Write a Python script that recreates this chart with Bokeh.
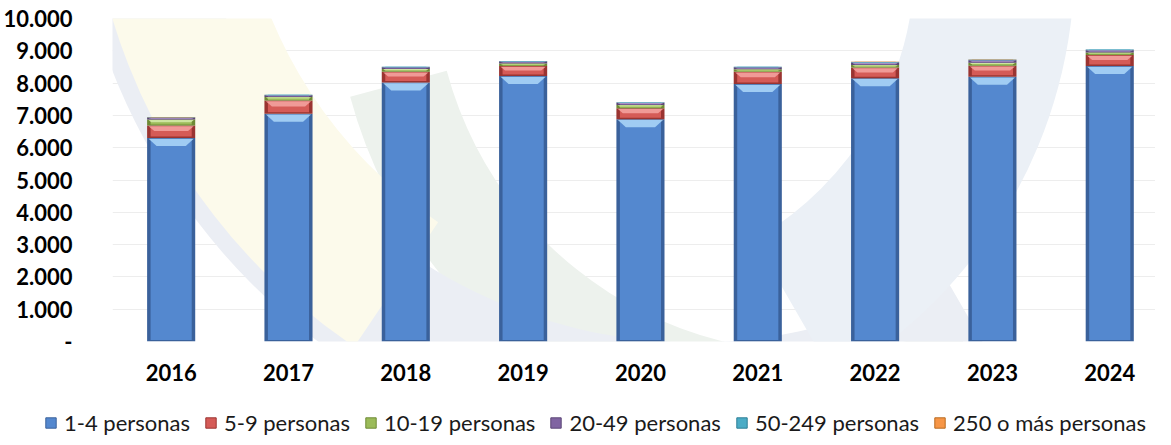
import numpy as np
from bokeh.plotting import figure
from bokeh.models import ColumnDataSource, FixedTicker, Legend, LegendItem, Range1d
from bokeh.embed import file_html
from bokeh.resources import INLINE

# ---------------- data ----------------
years = ["2016", "2017", "2018", "2019", "2020", "2021", "2022", "2023", "2024"]
series_names = ["1-4 personas", "5-9 personas", "10-19 personas",
                "20-49 personas", "50-249 personas", "250 o más personas"]
p1_4 = [6300, 7050, 8020, 8220, 6880, 7970, 8150, 8200, 8530]
p5_9 = [390, 410, 330, 310, 340, 380, 330, 340, 340]
p10_19 = [180, 110, 90, 80, 100, 80, 80, 90, 80]
p20_49 = [60, 55, 50, 60, 70, 60, 75, 75, 70]
p50_249 = [15, 15, 15, 15, 15, 15, 20, 20, 20]
p250 = [3, 3, 3, 3, 3, 3, 4, 4, 4]
y_ticks = [0, 1000, 2000, 3000, 4000, 5000, 6000, 7000, 8000, 9000, 10000]
y_tick_labels = ["-", "1.000", "2.000", "3.000", "4.000", "5.000",
                 "6.000", "7.000", "8.000", "9.000", "10.000"]

series_values = [p1_4, p5_9, p10_19, p20_49, p50_249, p250]

# ---------------- styles ----------------
# (dark edge, main, light bevel)
palette = [
    ("#3A619B", "#5488CF", "#A9D4F6"),
    ("#9A3431", "#D55B57", "#F3A19E"),
    ("#6E8A35", "#9BBB59", "#D3EAA6"),
    ("#5C4677", "#8064A2", "#BBA8D6"),
    ("#2E7F96", "#4BACC6", "#A2DCEC"),
    ("#B86A1E", "#F79646", "#FBC79A"),
]
FONT = "Lato"
W = 1155
H_MAIN, H_LEG = 389, 47
BL, BR, BT, BB = 108, 0, 18, 48
Y_MAX = 10000
X_LO, X_HI = -0.5, 8.39
BAR_W = 0.41

frame_w = W - BL - BR
frame_h = H_MAIN - BT - BB
ux = (X_HI - X_LO) / frame_w    # data units per px (x)
uy = Y_MAX / frame_h            # data units per px (y)

p = figure(width=W, height=H_MAIN, output_backend="svg", toolbar_location=None,
           x_range=Range1d(X_LO, X_HI), y_range=Range1d(0, Y_MAX),
           min_border_left=BL, min_border_right=BR, min_border_top=BT,
           min_border_bottom=BB, outline_line_color=None)
p.background_fill_color = "white"
p.border_fill_color = "white"

# --------------- faint background watermark (screen-space decoration) ---------------
def to_data(rx, ry):
    fx, fy = rx - 8, ry - 8
    return X_LO + (fx - BL) * ux, (H_MAIN - BB - fy) * uy

wm = [  # (ref cx, ref cy, r_in, r_out, a0, a1, color)
    (820, -20, 380, 480, 195, 292, "#EDF2ED"),
    (700, -150, 500, 625, 185, 300, "#EBEEF4"),
    (700, -150, 458, 608, 190, 236, "#FCFAEB"),
    (600, -30, 320, 480, 300, 360, "#EBF0F6"),
]
for cx, cy, ri, ro, a0, a1, c in wm:
    dx, dy = to_data(cx, cy)
    p.annular_wedge(x=[dx], y=[dy], inner_radius=ri, outer_radius=ro,
                    inner_radius_units="screen", outer_radius_units="screen",
                    start_angle=a0, end_angle=a1, start_angle_units="deg",
                    end_angle_units="deg", fill_color=c, line_color=None)

# ---------------- bars ----------------
x = np.arange(len(years), dtype=float)
bottom = np.zeros(len(years))
sources = []
for vals, (dark, main, light) in zip(series_values, palette):
    v = np.asarray(vals, dtype=float)
    top = bottom + v
    h = v
    src = ColumnDataSource(dict(x=x, bottom=bottom.copy(), top=top))
    sources.append(src)
    p.vbar(x="x", bottom="bottom", top="top", width=BAR_W, source=src,
           fill_color=dark, line_color=None)
    pad_y = np.minimum(1.5 * uy, 0.15 * h)
    src_in = ColumnDataSource(dict(x=x, bottom=bottom + pad_y, top=top - pad_y * 0.5))
    p.vbar(x="x", bottom="bottom", top="top", width=BAR_W - 7 * ux,
           source=src_in, fill_color=main, line_color=None)
    # top bevel trapezoid
    bh = np.minimum(8 * uy, 0.45 * h)
    half = BAR_W / 2 - 1.5 * ux
    inset = np.minimum(8 * ux, bh / uy * ux)
    xs = [[xi - half, xi + half, xi + half - ins, xi - half + ins]
          for xi, ins in zip(x, inset)]
    ys = [[t - pi * 0.5, t - pi * 0.5, t - b, t - b]
          for t, b, pi in zip(top, bh, pad_y)]
    p.patches(xs=xs, ys=ys, fill_color=light, line_color=None, fill_alpha=0.9)
    bottom = top

# ---------------- axes ----------------
p.xaxis.ticker = FixedTicker(ticks=list(x))
p.xaxis.major_label_overrides = {int(i): y for i, y in zip(x, years)}
p.yaxis.ticker = FixedTicker(ticks=y_ticks)
p.yaxis.major_label_overrides = {t: l for t, l in zip(y_ticks, y_tick_labels)}
for ax in (p.xaxis, p.yaxis):
    ax.axis_line_color = None
    ax.major_tick_line_color = None
    ax.minor_tick_line_color = None
    ax.major_tick_out = 0
    ax.major_tick_in = 0
    ax.minor_tick_out = 0
    ax.major_label_text_font = FONT
    ax.major_label_text_font_style = "bold"
    ax.major_label_text_font_size = "22px"
    ax.major_label_text_color = "#000000"
p.yaxis.major_label_standoff = 40
p.xaxis.major_label_standoff = 22
p.xgrid.grid_line_color = None
p.ygrid.ticker = FixedTicker(ticks=y_ticks)
p.ygrid.grid_line_color = "#EDEDED"
p.ygrid.grid_line_width = 1

# ---------------- legend (separate root strip below the chart) ----------------
# its ranges show none of the bars, only the legend keys drawn from the same data
lg = figure(width=W, height=H_LEG, output_backend="svg", toolbar_location=None,
            x_axis_type=None, y_axis_type=None, x_range=Range1d(-100, -99),
            y_range=Range1d(0, 1), min_border=0, outline_line_color=None)
lg.grid.visible = False
lg.background_fill_color = "white"
lg.border_fill_color = "white"
leg_renderers = []
for src, (dark, main, light) in zip(sources, palette):
    r = lg.vbar(x="x", bottom="bottom", top="top", width=BAR_W, source=src,
                fill_color=main, line_color=dark, line_width=1)
    leg_renderers.append(r)
items = [LegendItem(label=n, renderers=[r]) for n, r in zip(series_names, leg_renderers)]
legend = Legend(items=items, orientation="horizontal", location=(44, 0),
                label_text_font=FONT, label_text_font_size="22px",
                label_text_color="#1A1A1A", glyph_width=13, glyph_height=13,
                label_standoff=7, spacing=14, padding=0, margin=0,
                background_fill_alpha=0, border_line_color=None)
lg.add_layout(legend)

open("out.html", "w").write(file_html([p, lg], INLINE))
